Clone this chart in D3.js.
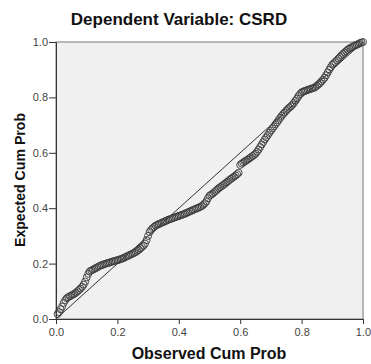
<!DOCTYPE html>
<html>
<head>
<meta charset="utf-8">
<script src="https://cdn.jsdelivr.net/npm/d3@7"></script>
<style>
  body { margin: 0; background: #fff; }
  svg { display: block; font-family: Arial, "Liberation Sans", sans-serif; }
</style>
</head>
<body>
<svg id="chart" width="371" height="364"></svg>
<script>
// P-P plot values
const observed = [
  0.005,0.010,0.015,0.020,0.025,0.030,0.035,0.040,0.045,0.050,
  0.055,0.060,0.065,0.070,0.075,0.080,0.085,0.090,0.095,0.100,
  0.105,0.110,0.115,0.120,0.125,0.130,0.135,0.140,0.145,0.150,
  0.155,0.160,0.165,0.170,0.175,0.180,0.185,0.190,0.195,0.200,
  0.205,0.210,0.215,0.220,0.225,0.230,0.235,0.240,0.245,0.250,
  0.255,0.260,0.265,0.270,0.275,0.280,0.285,0.290,0.295,0.300,
  0.305,0.310,0.315,0.320,0.325,0.330,0.335,0.340,0.345,0.350,
  0.355,0.360,0.365,0.370,0.375,0.380,0.385,0.390,0.395,0.400,
  0.405,0.410,0.415,0.420,0.425,0.430,0.435,0.440,0.445,0.450,
  0.455,0.460,0.465,0.470,0.475,0.480,0.485,0.490,0.495,0.500,
  0.505,0.510,0.515,0.520,0.525,0.530,0.535,0.540,0.545,0.550,
  0.555,0.560,0.565,0.570,0.575,0.580,0.585,0.590,0.595,0.600,
  0.605,0.610,0.615,0.620,0.625,0.630,0.635,0.640,0.645,0.650,
  0.655,0.660,0.665,0.670,0.675,0.680,0.685,0.690,0.695,0.700,
  0.705,0.710,0.715,0.720,0.725,0.730,0.735,0.740,0.745,0.750,
  0.755,0.760,0.765,0.770,0.775,0.780,0.785,0.790,0.795,0.800,
  0.805,0.810,0.815,0.820,0.825,0.830,0.835,0.840,0.845,0.850,
  0.855,0.860,0.865,0.870,0.875,0.880,0.885,0.890,0.895,0.900,
  0.905,0.910,0.915,0.920,0.925,0.930,0.935,0.940,0.945,0.950,
  0.955,0.960,0.965,0.970,0.975,0.980,0.985,0.990,0.995,1.000];
const expected = [
  0.018,0.025,0.035,0.045,0.058,0.068,0.075,0.079,0.082,0.085,
  0.088,0.091,0.095,0.100,0.105,0.110,0.116,0.124,0.135,0.150,
  0.163,0.172,0.175,0.178,0.181,0.184,0.187,0.190,0.193,0.195,
  0.197,0.199,0.201,0.202,0.204,0.206,0.208,0.209,0.211,0.212,
  0.214,0.216,0.218,0.220,0.223,0.226,0.228,0.231,0.234,0.236,
  0.239,0.242,0.246,0.250,0.255,0.260,0.265,0.272,0.285,0.300,
  0.314,0.322,0.328,0.333,0.337,0.340,0.343,0.345,0.348,0.350,
  0.353,0.355,0.358,0.360,0.362,0.364,0.366,0.368,0.370,0.372,
  0.374,0.376,0.378,0.380,0.383,0.385,0.388,0.390,0.393,0.395,
  0.398,0.400,0.402,0.405,0.408,0.412,0.418,0.425,0.436,0.445,
  0.449,0.452,0.457,0.462,0.467,0.472,0.476,0.480,0.484,0.488,
  0.493,0.497,0.502,0.506,0.510,0.514,0.518,0.523,0.528,0.556,
  0.561,0.565,0.569,0.572,0.576,0.580,0.584,0.588,0.592,0.597,
  0.604,0.612,0.621,0.630,0.639,0.648,0.656,0.664,0.672,0.680,
  0.688,0.695,0.703,0.710,0.718,0.726,0.733,0.740,0.746,0.752,
  0.758,0.763,0.768,0.773,0.780,0.788,0.796,0.805,0.812,0.818,
  0.821,0.823,0.825,0.827,0.829,0.831,0.833,0.834,0.838,0.842,
  0.847,0.852,0.858,0.864,0.871,0.880,0.890,0.900,0.909,0.918,
  0.923,0.928,0.934,0.940,0.946,0.952,0.957,0.962,0.967,0.972,
  0.976,0.979,0.982,0.985,0.988,0.990,0.993,0.996,0.998,1.000];
const tickValues = [0, 0.2, 0.4, 0.6, 0.8, 1.0];
const refLine = [0, 1];

const svg = d3.select('#chart');
const plotL = 56, plotR = 363, plotT = 42, plotB = 319;

const x = d3.scaleLinear().domain([0, 1]).range([plotL, plotR]);
const y = d3.scaleLinear().domain([0, 1]).range([plotB, plotT]);

// plot background
svg.append('rect')
  .attr('x', plotL).attr('y', plotT)
  .attr('width', plotR - plotL).attr('height', plotB - plotT)
  .attr('fill', '#f0f0f0')
  .attr('stroke', '#777').attr('stroke-width', 1);

// axes
const xAxis = svg.append('g')
  .attr('transform', `translate(0,${plotB})`)
  .call(d3.axisBottom(x).tickValues(tickValues).tickFormat(d3.format('.1f')).tickSizeOuter(0).tickSize(5).tickPadding(4));
const yAxis = svg.append('g')
  .attr('transform', `translate(${plotL},0)`)
  .call(d3.axisLeft(y).tickValues(tickValues).tickFormat(d3.format('.1f')).tickSizeOuter(0).tickSize(7).tickPadding(1));

[xAxis, yAxis].forEach(g => {
  g.select('.domain').attr('stroke', '#333');
  g.selectAll('.tick line').attr('stroke', '#333');
  g.selectAll('.tick text')
    .attr('fill', '#444')
    .style('font-size', '11px')
    .style('font-family', 'Arial, "Liberation Sans", sans-serif');
});

// diagonal reference line
svg.append('line')
  .attr('x1', x(refLine[0])).attr('y1', y(refLine[0]))
  .attr('x2', x(refLine[1])).attr('y2', y(refLine[1]))
  .attr('stroke', '#333').attr('stroke-width', 1);

// points
const pts = observed.map((d, i) => ({o: d, e: expected[i]}));
svg.append('g')
  .selectAll('circle')
  .data(pts)
  .enter().append('circle')
  .attr('cx', d => x(d.o))
  .attr('cy', d => y(d.e))
  .attr('r', 3.5)
  .attr('fill', 'none')
  .attr('stroke', '#3a3a3a')
  .attr('stroke-width', 0.9);

// titles
svg.append('text')
  .attr('x', 179).attr('y', 25)
  .attr('text-anchor', 'middle')
  .style('font-size', '17px').style('font-weight', 'bold')
  .attr('fill', '#111')
  .text('Dependent Variable: CSRD');

svg.append('text')
  .attr('x', 209).attr('y', 359)
  .attr('text-anchor', 'middle')
  .style('font-size', '16px').style('font-weight', 'bold')
  .attr('fill', '#111')
  .text('Observed Cum Prob');

svg.append('text')
  .attr('transform', 'translate(25,180) rotate(-90)')
  .attr('text-anchor', 'middle')
  .attr('textLength', 134).attr('lengthAdjust', 'spacingAndGlyphs')
  .style('font-size', '15px').style('font-weight', 'bold')
  .attr('fill', '#111')
  .text('Expected Cum Prob');
</script>
</body>
</html>
